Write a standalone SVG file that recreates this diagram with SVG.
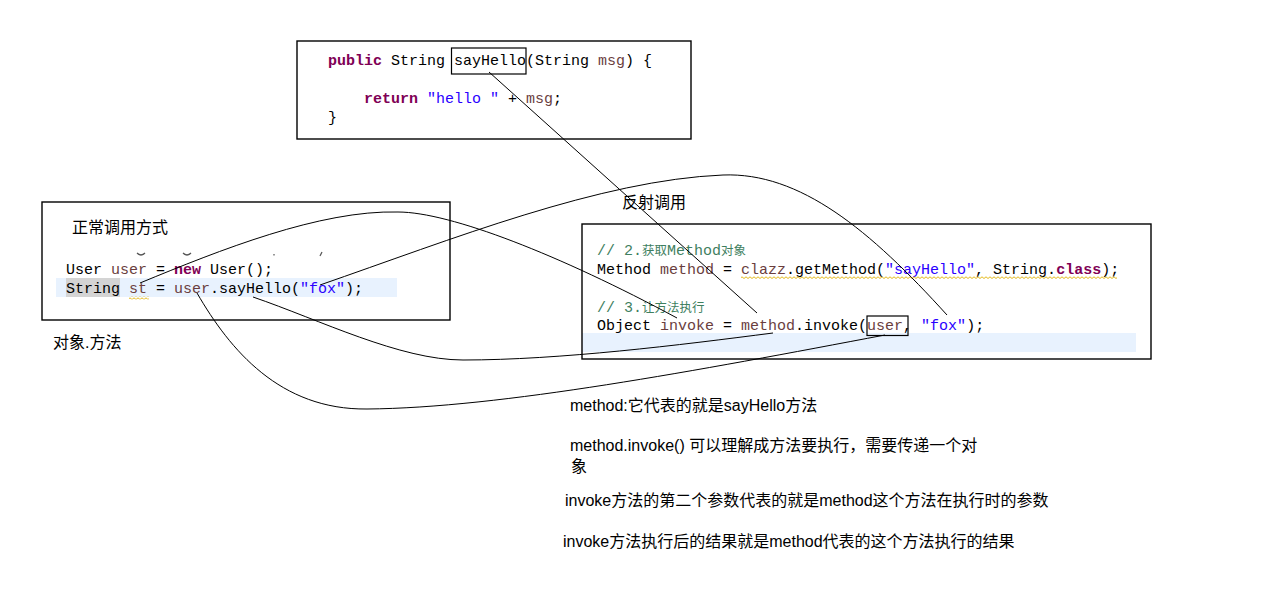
<svg xmlns="http://www.w3.org/2000/svg" width="1274" height="597" viewBox="0 0 1274 597">
<style>
.box{fill:none;stroke:#000;stroke-width:1.4}
.code{font-family:"Liberation Mono","Noto Sans CJK SC",monospace;font-size:15px;fill:#000}
.kw{fill:#7f0055;font-weight:bold}
.str{fill:#2a00ff}
.var{fill:#6a3e3e}
.cm{fill:#3f7f5f}
.cjk{font-family:"Noto Sans CJK SC",sans-serif;font-size:12.5px}
.lbl{font-family:"Liberation Sans","Noto Sans CJK SC",sans-serif;font-size:16px;fill:#000}
.conn{fill:none;stroke:#000;stroke-width:1}
</style>
<defs>
  <pattern id="wave" x="0" y="0" width="4" height="3" patternUnits="userSpaceOnUse">
    <path d="M0,2.5 L2,0.8 L4,2.5" fill="none" stroke="#e0b000" stroke-width="0.9"/>
  </pattern>
</defs>
<rect width="1274" height="597" fill="#fff"/>

<g id="top-box">
  <rect class="box" x="297" y="41" width="394" height="98"/>
  <text class="code" x="328" y="65"><tspan class="kw">public</tspan> String sayHello(String <tspan class="var">msg</tspan>) {</text>
  <rect x="451.5" y="48" width="74.5" height="26" fill="none" stroke="#000" stroke-width="1.2"/>
  <text class="code" x="364" y="103"><tspan class="kw">return</tspan> <tspan class="str">"hello "</tspan> + <tspan class="var">msg</tspan>;</text>
  <text class="code" x="328" y="122">}</text>
</g>

<g id="left-box">
  <rect x="56" y="278" width="341" height="19" fill="#e8f2fe"/>
  <rect x="66" y="278" width="54" height="19" fill="#d4d4d4"/>
  <rect class="box" x="42" y="202" width="408" height="118"/>
  <text class="lbl" x="72" y="233">正常调用方式</text>
  <g fill="none" stroke="#555" stroke-width="1.2">
    <path d="M137,253 q4,4 8,0"/>
    <path d="M183,253 q4,4 8,0"/>
    <path d="M274,254 l0,1.5"/>
    <path d="M322,252 l-2,4"/>
  </g>
  <text class="code" x="66" y="274">User <tspan class="var">user</tspan> = <tspan class="kw">new</tspan> User();</text>
  <text class="code" x="66" y="293">String <tspan class="var">st</tspan> = <tspan class="var">user</tspan>.sayHello(<tspan class="str">"fox"</tspan>);</text>
  <rect x="129" y="296.5" width="20" height="3" fill="url(#wave)"/>
</g>

<g id="right-box">
  <rect x="582" y="333" width="554" height="19" fill="#e8f2fe"/>
  <rect class="box" x="582" y="224" width="569" height="135"/>
  <text class="code cm" x="597" y="255">// 2.<tspan class="cjk">获取</tspan>Method<tspan class="cjk">对象</tspan></text>
  <text class="code" x="597" y="274">Method <tspan class="var">method</tspan> = <tspan class="var">clazz</tspan>.getMethod(<tspan class="str">"sayHello"</tspan>, String.<tspan class="kw">class</tspan>);</text>
  <rect x="741" y="276" width="376" height="3" fill="url(#wave)"/>
  <text class="code cm" x="597" y="312">// 3.<tspan class="cjk">让方法执行</tspan></text>
  <text class="code" x="597" y="330">Object <tspan class="var">invoke</tspan> = <tspan class="var">method</tspan>.invoke(<tspan class="var">user</tspan>, <tspan class="str">"fox"</tspan>);</text>
  <rect x="867" y="316" width="41" height="19.5" fill="none" stroke="#000" stroke-width="1.2"/>
</g>

<g id="labels">
  <text class="lbl" x="622" y="208">反射调用</text>
  <text class="lbl" x="53" y="348">对象.方法</text>
  <text class="lbl" x="570" y="411">method:它代表的就是sayHello方法</text>
  <text class="lbl" x="570" y="451">method.invoke() 可以理解成方法要执行，需要传递一个对</text>
  <text class="lbl" x="571" y="472">象</text>
  <text class="lbl" x="565" y="506">invoke方法的第二个参数代表的就是method这个方法在执行时的参数</text>
  <text class="lbl" x="563" y="547">invoke方法执行后的结果就是method代表的这个方法执行的结果</text>
</g>

<g id="connectors">
  <path class="conn" d="M489,72 L757,313"/>
  <path class="conn" d="M140,283 C220,250 320,210 398,212 C450,212 560,255 677,318"/>
  <path class="conn" d="M320,285 C450,240 600,180 723,175 C800,172 870,230 947,315"/>
  <path class="conn" d="M197,293 C230,350 280,410 367,409 C500,408 700,370 885,335"/>
  <path class="conn" d="M253,297 C320,320 400,360 463,360 C560,360 680,345 773,333"/>
</g>
</svg>
